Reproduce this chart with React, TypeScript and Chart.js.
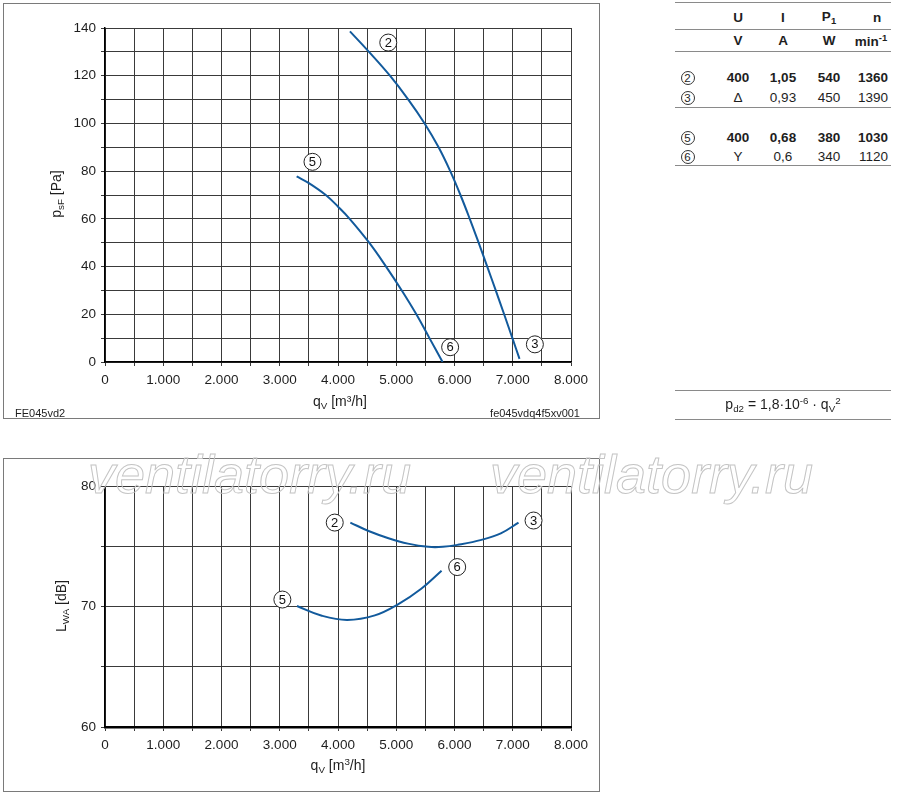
import React, { useEffect, useRef } from "react";
import { Chart, registerables } from "chart.js";

Chart.register(...registerables);

// ---------- data ----------
const xTickValues = [0, 1000, 2000, 3000, 4000, 5000, 6000, 7000, 8000];
const xTickLabels = ["0", "1.000", "2.000", "3.000", "4.000", "5.000", "6.000", "7.000", "8.000"];
const pressureTickLabels = [0, 20, 40, 60, 80, 100, 120, 140];
const noiseTickLabels = [60, 70, 80];

// pressure curve 2 -> 3 (q [m3/h], psF [Pa])
const curve23Q = [4205, 4532, 4892, 5207, 5487, 5727, 5927, 6102, 6262, 6414, 6562, 6708, 6852, 6994, 7116];
const curve23P = [138.6, 130, 120, 110, 100, 90, 80, 70, 60, 50, 40, 30, 20, 10, 1.3];
// pressure curve 5 -> 6
const curve56Q = [3290, 3500, 3790, 4005, 4200, 4535, 4825, 5095, 5345, 5570, 5795];
const curve56P = [77.8, 75, 70, 65, 60, 50, 40, 30, 20, 10, 0];

// noise curve 2 -> 3 (q [m3/h], LWA [dB])
const noise23Q = [4212, 4525, 4867, 5200, 5550, 5800, 6057, 6462, 6795, 7099];
const noise23L = [77.0, 76.3, 75.7, 75.25, 74.98, 74.98, 75.15, 75.56, 76.1, 77.0];
// noise curve 5 -> 6
const noise56Q = [3296, 3723, 4159, 4632, 5030, 5429, 5778];
const noise56L = [70.06, 69.25, 68.9, 69.28, 70.2, 71.5, 73.0];

// circled point markers
const pressureMarkerText = ["2", "3", "5", "6"];
const pressureMarkerQ = [4863, 7380, 3562, 5925];
const pressureMarkerP = [133.9, 7.4, 83.9, 6.2];
const noiseMarkerText = ["2", "3", "5", "6"];
const noiseMarkerQ = [3944, 7357, 3045, 6046];
const noiseMarkerL = [77.0, 77.17, 70.6, 73.3];

// table
const tableHeader = ["U", "I", "P", "n"];
const tableUnits = ["V", "A", "W", "min"];
const tableRowMarks = ["2", "3", "5", "6"];
const tableU = ["400", "Δ", "400", "Y"];
const tableI = ["1,05", "0,93", "0,68", "0,6"];
const tableP = ["540", "450", "380", "340"];
const tableN = ["1360", "1390", "1030", "1120"];
const tableBold = [true, false, true, false];

// ---------- styles ----------
const FONT = '"Liberation Sans", Arial, Helvetica, sans-serif';
const BLUE = "#125a9c";
const GRID = "#3a3a3a";
const TEXT = "#1e1e1e";

const pts = (xs: number[], ys: number[]) => xs.map((x, i) => ({ x, y: ys[i] }));

const fmtX = (v: number) => {
  const i = xTickValues.indexOf(v);
  return i >= 0 ? xTickLabels[i] : "";
};

function markerPlugin(id: string, texts: string[], xs: number[], ys: number[]) {
  return {
    id,
    afterDatasetsDraw(chart: any) {
      const ctx = chart.ctx;
      const sx = chart.scales.x;
      const sy = chart.scales.y;
      ctx.save();
      texts.forEach((t, i) => {
        const px = sx.getPixelForValue(xs[i]);
        const py = sy.getPixelForValue(ys[i]);
        ctx.beginPath();
        ctx.arc(px, py, 8.5, 0, Math.PI * 2);
        ctx.fillStyle = "#ffffff";
        ctx.fill();
        ctx.lineWidth = 1;
        ctx.strokeStyle = "#222";
        ctx.stroke();
        ctx.fillStyle = "#111";
        ctx.font = `13px ${FONT}`;
        ctx.textAlign = "center";
        ctx.textBaseline = "middle";
        ctx.fillText(t, px, py + 0.5);
      });
      ctx.restore();
    },
  };
}

function lineDataset(xs: number[], ys: number[]) {
  return {
    data: pts(xs, ys),
    showLine: true,
    borderColor: BLUE,
    backgroundColor: BLUE,
    borderWidth: 2,
    pointRadius: 0,
    tension: 0.4,
    fill: false,
  };
}

function xScale(height: number, borderWidth: number) {
  return {
    type: "linear" as const,
    min: 0,
    max: 8000,
    afterFit: (s: any) => {
      s.height = height;
    },
    afterBuildTicks: (s: any) => {
      const t = [];
      for (let v = 0; v <= 8000; v += 500) t.push({ value: v });
      s.ticks = t;
    },
    ticks: {
      autoSkip: false,
      maxRotation: 0,
      padding: 6,
      color: TEXT,
      font: { family: FONT, size: 13.5 },
      callback: (v: any) => fmtX(Number(v)),
    },
    grid: { color: GRID, lineWidth: 1, tickLength: 4, drawTicks: true },
    border: { display: true, color: "#000", width: borderWidth },
  };
}

function yScale(min: number, max: number, step: number, labels: number[]) {
  return {
    type: "linear" as const,
    min,
    max,
    afterFit: (s: any) => {
      s.width = 102;
    },
    afterBuildTicks: (s: any) => {
      const t = [];
      for (let v = min; v <= max + 1e-9; v += step) t.push({ value: v });
      s.ticks = t;
    },
    ticks: {
      autoSkip: false,
      padding: 5,
      color: TEXT,
      font: { family: FONT, size: 13.5 },
      callback: (v: any) => (labels.indexOf(Number(v)) >= 0 ? String(v) : ""),
    },
    grid: { color: GRID, lineWidth: 1, tickLength: 4, drawTicks: true },
    border: { display: true, color: "#000", width: 1.5 },
  };
}

const abs = (left: number, top: number, extra: any = {}) => ({
  position: "absolute" as const,
  left,
  top,
  ...extra,
});

function Txt(props: { x: number; y: number; size?: number; bold?: boolean; align?: string; children: any; color?: string }) {
  const { x, y, size = 13.5, bold = false, align = "center", children, color = TEXT } = props;
  const tx = align === "center" ? "-50%" : align === "right" ? "-100%" : "0";
  return (
    <div
      style={{
        position: "absolute",
        left: x,
        top: y,
        transform: `translate(${tx}, -50%)`,
        whiteSpace: "nowrap",
        fontFamily: FONT,
        fontSize: size,
        fontWeight: bold ? "bold" : "normal",
        color,
        lineHeight: 1,
      }}
    >
      {children}
    </div>
  );
}

function Circled(props: { x: number; y: number; t: string }) {
  return (
    <div
      style={{
        position: "absolute",
        left: props.x - 6.5,
        top: props.y - 6.5,
        width: 12,
        height: 12,
        border: "1px solid #333",
        borderRadius: "50%",
        fontFamily: FONT,
        fontSize: 11.5,
        lineHeight: "12px",
        textAlign: "center",
        color: TEXT,
      }}
    >
      {props.t}
    </div>
  );
}

const subStyle = { fontSize: "0.7em", verticalAlign: "-0.3em" };
const supStyle = { fontSize: "0.7em", verticalAlign: "0.55em" };

export default function App() {
  const topRef = useRef<HTMLCanvasElement | null>(null);
  const botRef = useRef<HTMLCanvasElement | null>(null);

  useEffect(() => {
    const top = new Chart(topRef.current as HTMLCanvasElement, {
      type: "scatter",
      data: {
        datasets: [lineDataset(curve23Q, curve23P), lineDataset(curve56Q, curve56P)] as any,
      },
      options: {
        animation: false,
        responsive: false,
        devicePixelRatio: 1,
        layout: { padding: { top: 25, right: 29, left: 0, bottom: 0 } },
        plugins: { legend: { display: false }, tooltip: { enabled: false } },
        scales: {
          x: xScale(57, 1.5) as any,
          y: yScale(0, 140, 10, pressureTickLabels) as any,
        },
      },
      plugins: [markerPlugin("pm", pressureMarkerText, pressureMarkerQ, pressureMarkerP)],
    });
    const bot = new Chart(botRef.current as HTMLCanvasElement, {
      type: "scatter",
      data: {
        datasets: [lineDataset(noise23Q, noise23L), lineDataset(noise56Q, noise56L)] as any,
      },
      options: {
        animation: false,
        responsive: false,
        devicePixelRatio: 1,
        layout: { padding: { top: 28.5, right: 29, left: 0, bottom: 0 } },
        plugins: { legend: { display: false }, tooltip: { enabled: false } },
        scales: {
          x: xScale(65, 2.5) as any,
          y: yScale(60, 80, 5, noiseTickLabels) as any,
        },
      },
      plugins: [markerPlugin("nm", noiseMarkerText, noiseMarkerQ, noiseMarkerL)],
    });
    return () => {
      top.destroy();
      bot.destroy();
    };
  }, []);

  const colX = [738, 783, 829, 872];
  const rowY = [77.5, 97.5, 137.5, 156.5];
  const hline = (y: number, x1: number, x2: number) => (
    <div key={`l${y}`} style={abs(x1, y - 0.75, { width: x2 - x1, height: 0, borderTop: "1.5px solid #8a8a8a" })} />
  );

  return (
    <div style={{ position: "absolute", left: 0, top: 0, width: 900, height: 797, background: "#fff", fontFamily: FONT }}>
      {/* frames */}
      <div style={abs(2.5, 2.5, { width: 597, height: 416, border: "1.5px solid #7a7a7a", boxSizing: "border-box" })} />
      <div style={abs(2.5, 458, { width: 597, height: 334, border: "1.5px solid #7a7a7a", boxSizing: "border-box" })} />

      {/* charts */}
      <canvas ref={topRef} width={597} height={416} style={abs(3, 3, { width: 597, height: 416 })} />
      <canvas ref={botRef} width={597} height={334} style={abs(3, 458, { width: 597, height: 334 })} />

      {/* axis titles top */}
      <div style={abs(57, 194, { transform: "translate(-50%,-50%) rotate(-90deg)", whiteSpace: "nowrap", fontSize: 14, color: TEXT, lineHeight: 1 })}>
        p<span style={subStyle}>sF</span> [Pa]
      </div>
      <Txt x={340} y={402} size={14}>
        q<span style={subStyle}>V</span> [m³/h]
      </Txt>
      <Txt x={15} y={412.5} size={11} align="left">FE045vd2</Txt>
      <Txt x={580} y={412.5} size={11} align="right">fe045vdq4f5xv001</Txt>

      {/* axis titles bottom */}
      <div style={abs(62, 606, { transform: "translate(-50%,-50%) rotate(-90deg)", whiteSpace: "nowrap", fontSize: 14, color: TEXT, lineHeight: 1 })}>
        L<span style={subStyle}>WA</span> [dB]
      </div>
      <Txt x={338} y={766} size={14}>
        q<span style={subStyle}>V</span> [m<span style={supStyle}>3</span>/h]
      </Txt>

      {/* table */}
      {hline(3, 675, 891)}
      {hline(30, 675, 891)}
      {hline(52, 675, 891)}
      {hline(108, 675, 891)}
      {hline(166, 675, 891)}
      <Txt x={colX[0]} y={17.5} bold>{tableHeader[0]}</Txt>
      <Txt x={colX[1]} y={17.5} bold>{tableHeader[1]}</Txt>
      <Txt x={colX[2]} y={17.5} bold>
        {tableHeader[2]}
        <span style={subStyle}>1</span>
      </Txt>
      <Txt x={877} y={17.5} bold>{tableHeader[3]}</Txt>
      <Txt x={colX[0]} y={41} bold>{tableUnits[0]}</Txt>
      <Txt x={colX[1]} y={41} bold>{tableUnits[1]}</Txt>
      <Txt x={colX[2]} y={41} bold>{tableUnits[2]}</Txt>
      <Txt x={871} y={41} bold>
        {tableUnits[3]}
        <span style={supStyle}>-1</span>
      </Txt>
      {tableRowMarks.map((m, i) => (
        <React.Fragment key={m}>
          <Circled x={687} y={rowY[i]} t={m} />
          <Txt x={colX[0]} y={rowY[i]} bold={tableBold[i]}>{tableU[i]}</Txt>
          <Txt x={colX[1]} y={rowY[i]} bold={tableBold[i]}>{tableI[i]}</Txt>
          <Txt x={colX[2]} y={rowY[i]} bold={tableBold[i]}>{tableP[i]}</Txt>
          <Txt x={888} y={rowY[i]} bold={tableBold[i]} align="right">{tableN[i]}</Txt>
        </React.Fragment>
      ))}

      {/* formula */}
      {hline(390.5, 675, 891)}
      {hline(420, 675, 891)}
      <Txt x={783} y={405} size={14}>
        p<span style={subStyle}>d2</span> = 1,8·10<span style={supStyle}>-6</span> · q<span style={subStyle}>V</span>
        <span style={supStyle}>2</span>
      </Txt>

      {/* watermark */}
      {[88, 490].map((x) => (
        <div
          key={x}
          style={abs(x, 447, {
            fontFamily: FONT,
            fontStyle: "italic",
            fontSize: 54,
            lineHeight: "54px",
            color: "transparent",
            WebkitTextStroke: "1px #c4c4c4",
            whiteSpace: "nowrap",
            pointerEvents: "none",
            zIndex: 5,
          })}
        >
          ventilatorry.ru
        </div>
      ))}
    </div>
  );
}
